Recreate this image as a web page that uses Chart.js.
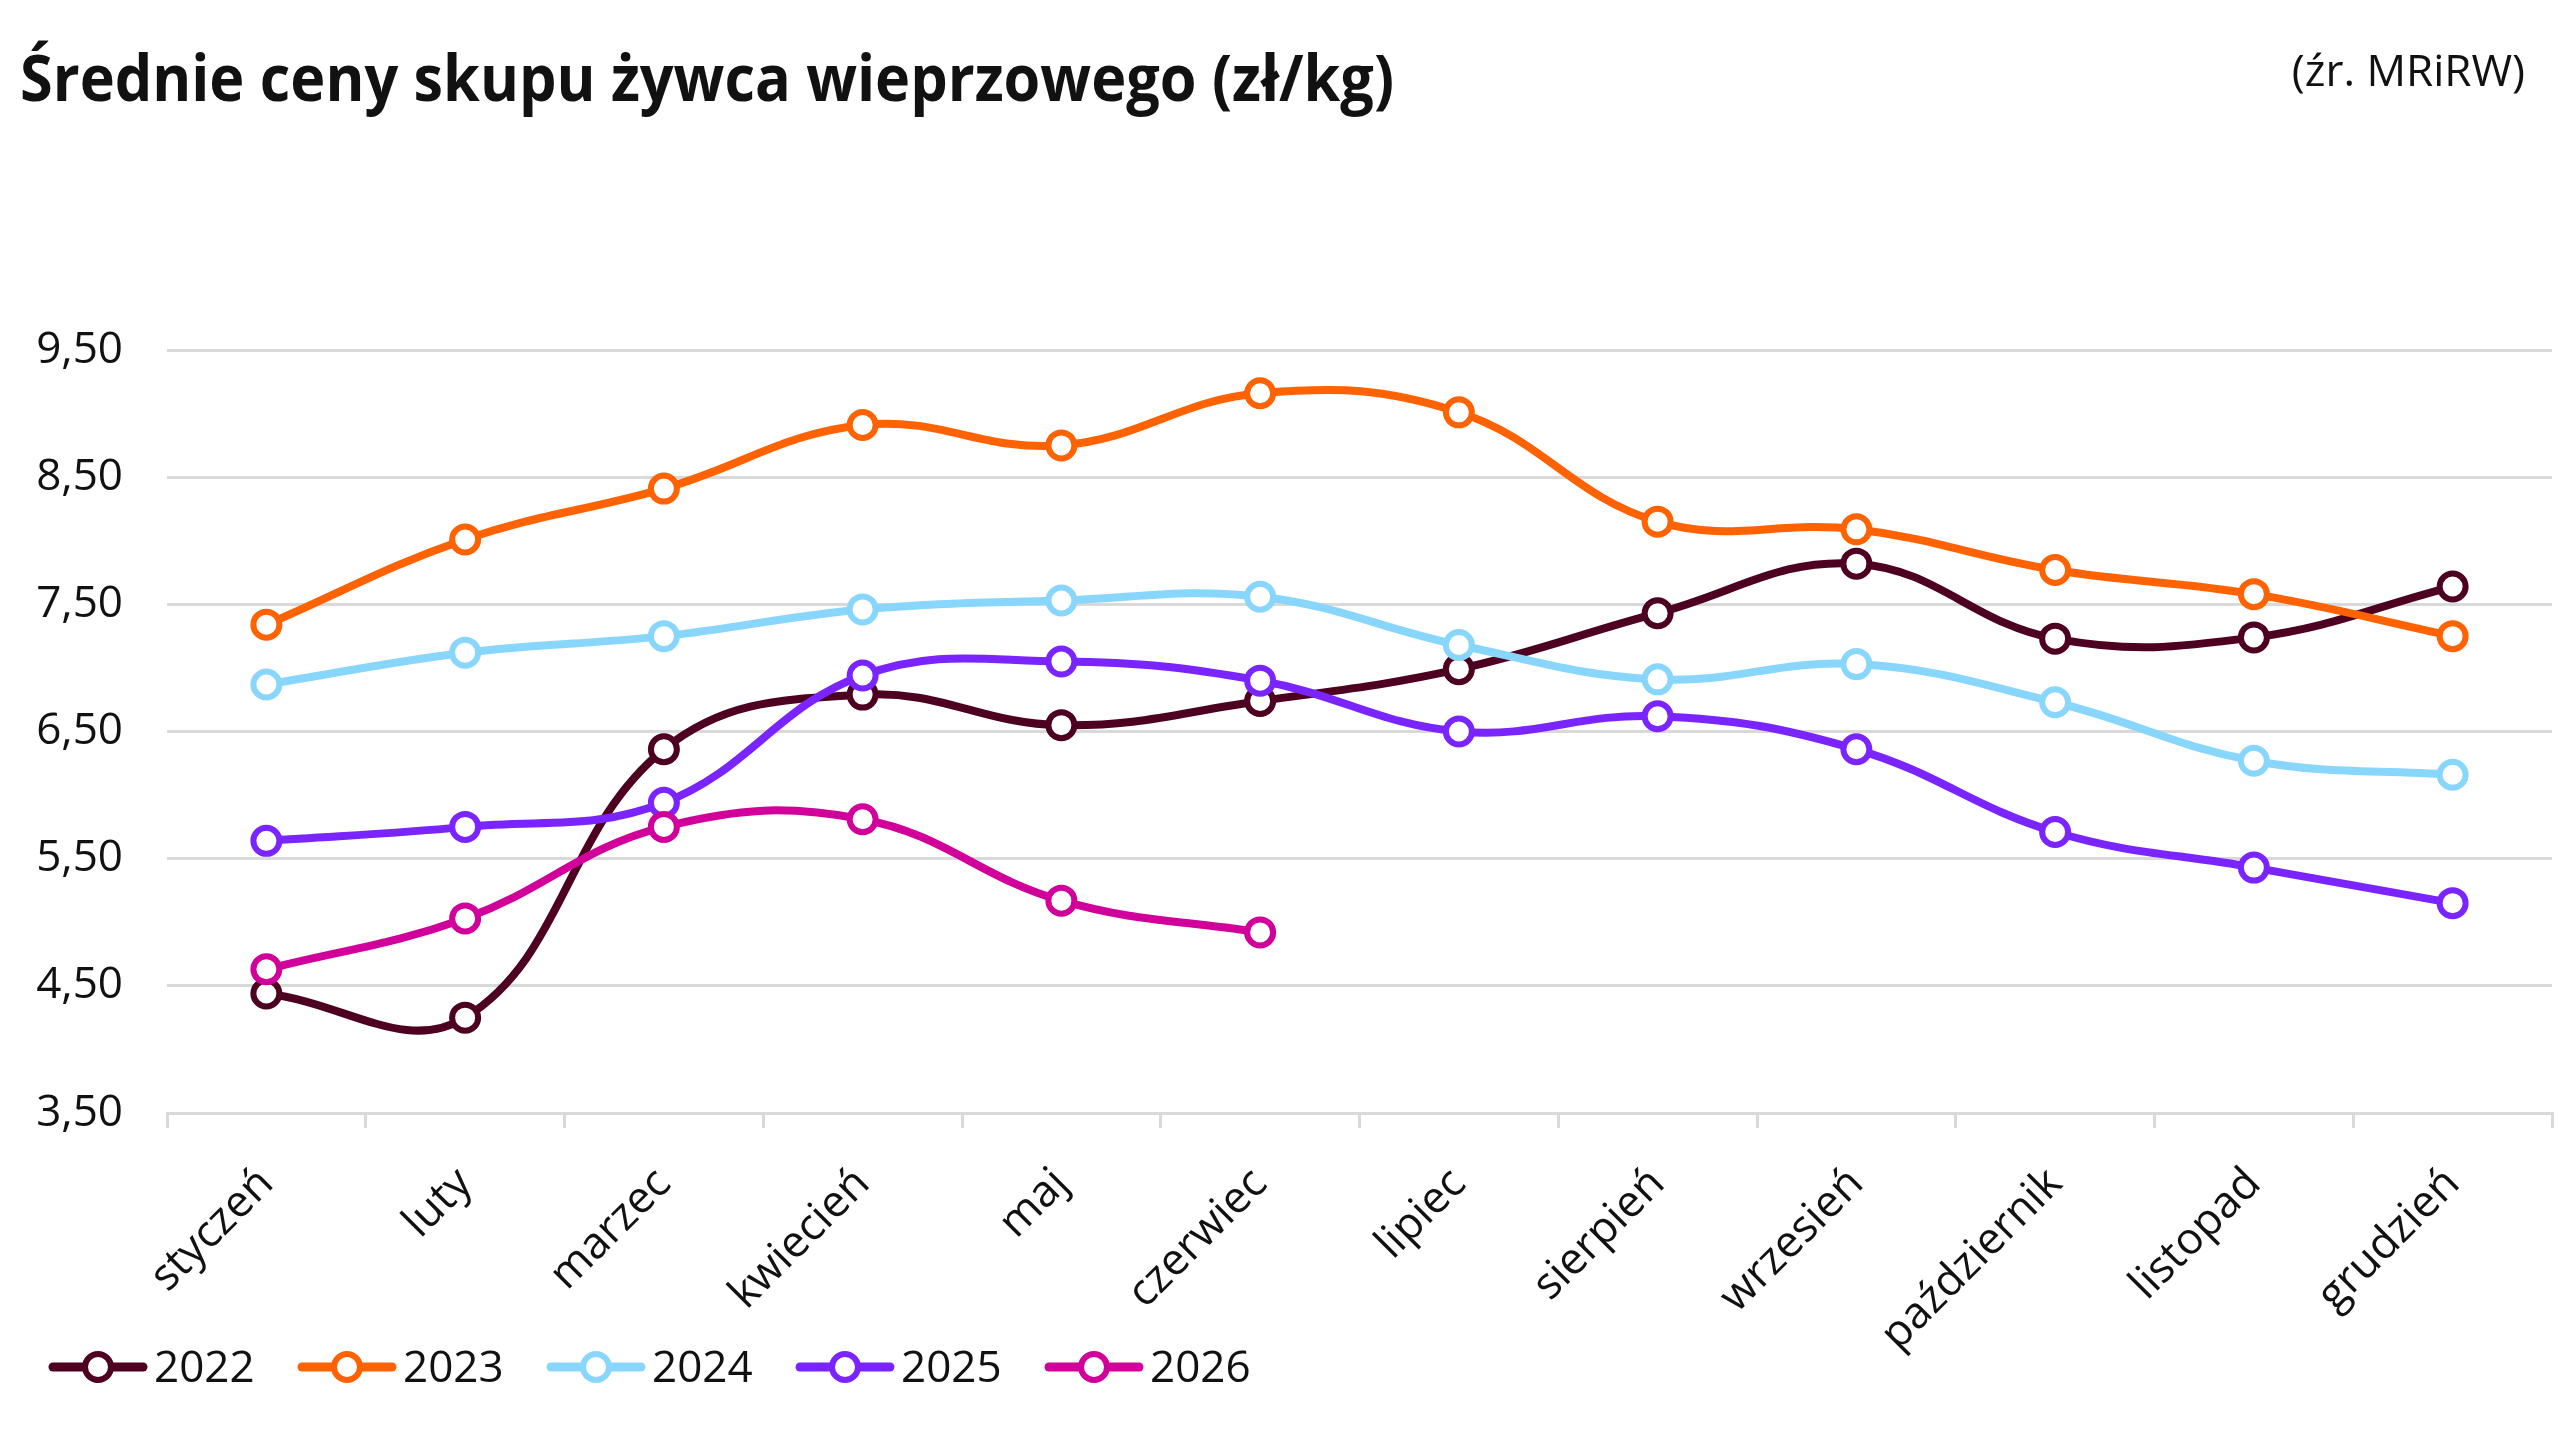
<!DOCTYPE html>
<html>
<head>
<meta charset="utf-8">
<script src="https://cdn.jsdelivr.net/npm/chart.js@4.4.1/dist/chart.umd.min.js"></script>
<style>
  html, body { margin: 0; padding: 0; background: #fff; }
  #wrap { position: relative; width: 2571px; height: 1449px; overflow: hidden; }
  #chart { position: absolute; left: 0; top: 0; }
  #title {
    position: absolute; left: 20px; top: 45px;
    font: 700 64px "Open Sans", sans-serif; line-height: 64px;
    color: #111; white-space: nowrap; transform-origin: 0 0;
  }
  #source {
    position: absolute; right: 46px; top: 47px;
    font: 400 44px "Open Sans", sans-serif; line-height: 44px;
    color: #111; white-space: nowrap;
  }
</style>
</head>
<body>
<div id="wrap">
  <canvas id="chart" width="2571" height="1449"></canvas>
  <div id="title">Średnie ceny skupu żywca wieprzowego (zł/kg)</div>
  <div id="source">(źr. MRiRW)</div>
</div>
<script>
// miesiące
var months = ['styczeń', 'luty', 'marzec', 'kwiecień', 'maj', 'czerwiec',
  'lipiec', 'sierpień', 'wrzesień', 'październik', 'listopad', 'grudzień'];

var years = ['2022', '2023', '2024', '2025', '2026'];

var v2022 = [4.44, 4.25, 6.36, 6.79, 6.55, 6.74, 6.99, 7.43, 7.82, 7.23, 7.24, 7.64];
var v2023 = [7.34, 8.01, 8.41, 8.91, 8.75, 9.16, 9.01, 8.15, 8.09, 7.77, 7.58, 7.25];
var v2024 = [6.87, 7.12, 7.25, 7.46, 7.53, 7.56, 7.18, 6.91, 7.03, 6.73, 6.27, 6.16];
var v2025 = [5.64, 5.75, 5.94, 6.94, 7.05, 6.90, 6.50, 6.62, 6.36, 5.71, 5.43, 5.15];
var v2026 = [4.63, 5.03, 5.75, 5.81, 5.17, 4.92];

var yTicks = [3.5, 4.5, 5.5, 6.5, 7.5, 8.5, 9.5];

var colors = ['#4d0020', '#ff6200', '#89d6fd', '#7a24ff', '#d1009a'];
var values = [v2022, v2023, v2024, v2025, v2026];

// fit title width like in the original
var t = document.getElementById('title');
var w = t.getBoundingClientRect().width;
t.style.transform = 'scaleX(' + (1374 / w) + ')';

var datasets = years.map(function (y, i) {
  return {
    label: y,
    data: values[i],
    borderColor: colors[i],
    borderWidth: 8,
    pointRadius: 13,
    pointHoverRadius: 13,
    pointBorderWidth: 6,
    pointBorderColor: colors[i],
    pointBackgroundColor: '#fff',
    tension: 0.4,
    fill: false,
    order: years.length - i
  };
});

// legend: line + marker like excel
var lineLegend = {
  id: 'lineLegend',
  afterDraw: function (chart) {
    var ctx = chart.ctx;
    var cy = 1367;
    ctx.save();
    chart.data.datasets.forEach(function (ds, i) {
      var x0 = 49 + 249 * i;
      ctx.strokeStyle = ds.borderColor;
      ctx.lineWidth = 9;
      ctx.lineCap = 'round';
      ctx.beginPath();
      ctx.moveTo(x0 + 4, cy);
      ctx.lineTo(x0 + 94, cy);
      ctx.stroke();
      ctx.beginPath();
      ctx.arc(x0 + 49, cy, 13, 0, Math.PI * 2);
      ctx.fillStyle = '#fff';
      ctx.fill();
      ctx.lineWidth = 6;
      ctx.stroke();
      ctx.fillStyle = '#111';
      ctx.font = '44px "Open Sans"';
      ctx.textBaseline = 'middle';
      ctx.textAlign = 'left';
      ctx.fillText(ds.label, x0 + 105, cy + 2);
    });
    ctx.restore();
  }
};

var myChart = new Chart(document.getElementById('chart'), {
  type: 'line',
  data: { labels: months, datasets: datasets },
  plugins: [lineLegend],
  options: {
    responsive: false,
    animation: false,
    events: [],
    layout: { padding: { top: 350, left: 36, right: 18, bottom: 0 } },
    plugins: {
      legend: { display: false },
      tooltip: { enabled: false },
      title: { display: false }
    },
    scales: {
      x: {
        offset: true,
        grid: {
          offset: true,
          drawOnChartArea: false,
          drawTicks: true,
          tickLength: 15,
          color: '#d9d9d9',
          lineWidth: 3
        },
        border: { color: '#d9d9d9', width: 3 },
        ticks: {
          maxRotation: 45,
          minRotation: 45,
          autoSkip: false,
          padding: 30,
          color: '#111',
          font: { family: 'Open Sans', size: 44 }
        },
        afterFit: function (scale) { scale.height = 336; }
      },
      y: {
        min: 3.5,
        max: 9.5,
        afterBuildTicks: function (scale) {
          scale.ticks = yTicks.map(function (v) { return { value: v }; });
        },
        grid: { drawTicks: false, color: '#d9d9d9', lineWidth: 3 },
        border: { display: false },
        ticks: {
          padding: 44,
          color: '#111',
          font: { family: 'Open Sans', size: 44 },
          callback: function (v) { return v.toFixed(2).replace('.', ','); }
        },
        afterFit: function (scale) { scale.width = 131; }
      }
    }
  }
});
</script>
</body>
</html>
